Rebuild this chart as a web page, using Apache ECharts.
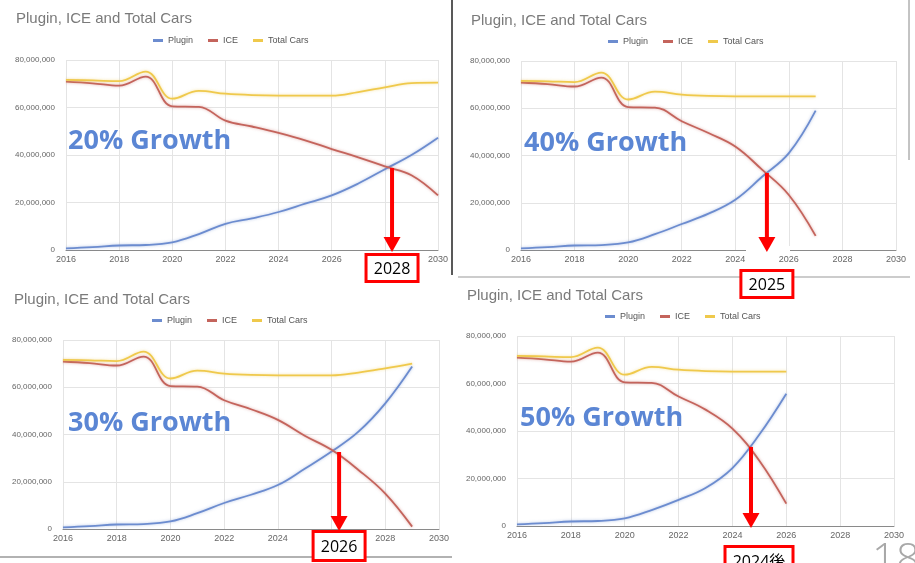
<!DOCTYPE html>
<html>
<head>
<meta charset="utf-8">
<script src="https://cdn.jsdelivr.net/npm/echarts/dist/echarts.min.js"></script>
<style>
  html, body { margin: 0; padding: 0; background: #ffffff; overflow: hidden; }
  #chart { width: 915px; height: 563px; }
</style>
</head>
<body>
<div id="chart"></div>
<script>
// ---- Data (vehicles, in millions) ----
const years = [2016, 2017, 2018, 2019, 2020, 2021, 2022, 2023, 2024, 2025, 2026, 2027, 2028, 2029, 2030];
const xTicks = [2016, 2018, 2020, 2022, 2024, 2026, 2028, 2030];

// 20% growth scenario (to 2030)
const plugin20 = [0.7, 1.2, 1.9, 2.1, 3.2, 6.7, 11.0, 13.3, 16.0, 19.5, 23.0, 28.0, 34.0, 40.0, 47.3];
const ice20    = [70.9, 70.2, 69.2, 73.0, 60.5, 60.3, 54.5, 52.0, 49.3, 46.2, 42.5, 39.0, 35.2, 31.5, 23.0];
const total20  = [71.6, 71.4, 71.1, 75.1, 63.7, 67.0, 65.8, 65.2, 65.0, 65.0, 65.0, 66.5, 68.5, 70.3, 70.5];

// 40% growth scenario (to 2027)
const plugin40 = [0.7, 1.2, 1.9, 2.1, 3.2, 6.7, 11.0, 15.4, 21.3, 31.0, 41.0, 59.0];
const ice40    = [70.9, 70.2, 69.2, 73.0, 60.5, 60.3, 54.5, 49.5, 43.8, 34.0, 23.3, 6.0];
const total40  = [71.6, 71.4, 71.1, 75.1, 63.7, 67.0, 65.8, 65.2, 65.0, 65.0, 65.0, 65.0];

// 30% growth scenario (to 2029)
const plugin30 = [0.7, 1.2, 1.9, 2.1, 3.2, 6.7, 11.0, 14.5, 18.6, 25.5, 32.8, 41.2, 53.2, 68.8];
const ice30    = [70.9, 70.2, 69.2, 73.0, 60.5, 60.3, 54.5, 50.7, 46.2, 39.5, 33.5, 25.0, 15.0, 1.0];
const total30  = [71.6, 71.4, 71.1, 75.1, 63.7, 67.0, 65.8, 65.2, 65.0, 65.0, 65.0, 66.2, 68.0, 70.0];

// 50% growth scenario (to 2026)
const plugin50 = [0.7, 1.2, 1.9, 2.1, 3.2, 6.7, 11.0, 16.0, 24.4, 38.5, 55.7];
const ice50    = [70.9, 70.2, 69.2, 73.0, 60.5, 60.3, 54.5, 49.0, 41.0, 27.5, 9.4];
const total50  = [71.6, 71.4, 71.1, 75.1, 63.7, 67.0, 65.8, 65.2, 65.0, 65.0, 65.0];

// Where plug-ins overtake ICE (year, millions) and the year called out below each chart
const crossYears  = [2028.27, 2025.18, 2026.28, 2024.69];
const crossValues = [34.5, 32.6, 32.6, 33.3];
const crossLabels = ['2028', '2025', '2026', '2024後'];

const growthLabels = ['20% Growth', '40% Growth', '30% Growth', '50% Growth'];
const seriesNames = ['Plugin', 'ICE', 'Total Cars'];
const chartTitle = 'Plugin, ICE and Total Cars';
const pageNumber = '18';

// ---- Layout of the four panels ----
const panels = [
  { plugin: plugin20, ice: ice20, total: total20,
    grid: { left: 66, top: 60, width: 372, height: 190 }, title: [16, 11], legend: [153, 36],
    growth: [68, 141], box: { dx: 0, dy: 3, w: 55, h: 30 } },
  { plugin: plugin40, ice: ice40, total: total40,
    grid: { left: 521, top: 61, width: 375, height: 189 }, title: [471, 13], legend: [608, 37],
    growth: [524, 143], box: { dx: 0, dy: 19, w: 55, h: 30 } },
  { plugin: plugin30, ice: ice30, total: total30,
    grid: { left: 63, top: 340, width: 376, height: 189 }, title: [14, 292], legend: [152, 316],
    growth: [68, 423], box: { dx: 0, dy: 1, w: 55, h: 32 } },
  { plugin: plugin50, ice: ice50, total: total50,
    grid: { left: 517, top: 336, width: 377, height: 190 }, title: [467, 288], legend: [605, 312],
    growth: [520, 418], box: { dx: 8, dy: 19, w: 71, h: 32 } }
];

const colors = { 'Plugin': '#6c8ccf', 'ICE': '#c4645c', 'Total Cars': '#efc94c' };
const uiFont = '"Liberation Sans", Arial, sans-serif';
const M = 1e6;

function pairs(vals) {
  return vals.map((v, i) => [years[i], v * M]);
}

const option = {
  animation: false,
  backgroundColor: '#ffffff',
  title: panels.map(p => ({
    text: chartTitle, left: p.title[0], top: p.title[1], padding: 0,
    textStyle: { fontSize: 15, fontWeight: 'normal', color: '#7a7a7a', fontFamily: uiFont }
  })),
  legend: panels.map(p => ({
    data: seriesNames, left: p.legend[0], top: p.legend[1], padding: 0,
    icon: 'rect', itemWidth: 10, itemHeight: 3, itemGap: 15,
    textStyle: { fontSize: 9, color: '#555', fontFamily: uiFont }
  })),
  grid: panels.map(p => Object.assign({ containLabel: false, outerBoundsMode: 'none' }, p.grid)),
  xAxis: panels.map((p, i) => ({
    type: 'value', gridIndex: i, min: 2016, max: 2030, interval: 2,
    axisLine: { show: true, onZero: false, lineStyle: { color: '#8a8a8a', width: 1 } },
    axisTick: { show: false },
    axisLabel: { fontSize: 9, color: '#666', margin: 5, fontFamily: uiFont,
                 formatter: v => String(v), showMinLabel: true, showMaxLabel: true },
    splitLine: { show: true, lineStyle: { color: '#e4e4e4', width: 1 } }
  })),
  yAxis: panels.map((p, i) => ({
    type: 'value', gridIndex: i, min: 0, max: 80 * M, interval: 20 * M,
    axisLine: { show: false }, axisTick: { show: false },
    axisLabel: { fontSize: 8, color: '#666', margin: 11, fontFamily: uiFont,
                 formatter: v => v.toLocaleString('en-US') },
    splitLine: { show: true, lineStyle: { color: '#e4e4e4', width: 1 } }
  })),
  series: []
};

panels.forEach((p, i) => {
  [['Plugin', p.plugin], ['ICE', p.ice], ['Total Cars', p.total]].forEach(([name, vals]) => {
    option.series.push({
      type: 'line', name: name, xAxisIndex: i, yAxisIndex: i,
      data: pairs(vals), smooth: 0.4, symbol: 'none', showSymbol: false,
      color: colors[name],
      lineStyle: { width: 1.8, color: colors[name], shadowBlur: 3, shadowColor: colors[name] + '88' },
      emphasis: { disabled: true }
    });
  });
});

const chart = echarts.init(document.getElementById('chart'), null, { renderer: 'canvas' });
chart.setOption(option);

// ---- Annotations: panel frames, growth captions, crossover arrows and year boxes ----
const red = '#ff0000';
const graphics = [
  { type: 'line', shape: { x1: 452, y1: 0, x2: 452, y2: 275 }, style: { stroke: '#222', lineWidth: 1.5 }, z: 50 },
  { type: 'line', shape: { x1: 909, y1: 0, x2: 909, y2: 160 }, style: { stroke: '#888', lineWidth: 1 }, z: 50 },
  { type: 'line', shape: { x1: 458, y1: 277, x2: 910, y2: 277 }, style: { stroke: '#9a9a9a', lineWidth: 1.2 }, z: 50 },
  { type: 'line', shape: { x1: 0, y1: 557, x2: 452, y2: 557 }, style: { stroke: '#666', lineWidth: 1.2 }, z: 50 },
  { type: 'rect', shape: { x: 746, y: 246, width: 44, height: 8 }, style: { fill: '#ffffff' }, z: 60 },
  { type: 'text', x: 872, y: 540, z: 60,
    style: { text: pageNumber, font: '300 42px "Open Sans", sans-serif', fill: '#a8a8a8' } }
];

panels.forEach((p, i) => {
  graphics.push({
    type: 'text', x: p.growth[0], y: p.growth[1], z: 80,
    style: { text: growthLabels[i], font: 'bold 27px "Open Sans", sans-serif', fill: '#5b86d4',
             align: 'left', verticalAlign: 'middle', textAlign: 'left', textVerticalAlign: 'middle',
             stroke: 'rgba(255,255,255,0.6)', lineWidth: 2 }
  });

  const top = chart.convertToPixel({ gridIndex: i }, [crossYears[i], crossValues[i] * M]);
  const base = chart.convertToPixel({ gridIndex: i }, [crossYears[i], 0]);
  const x = top[0];
  const tipY = base[1] + 2;
  const headH = 15, headW = 17;

  graphics.push({
    type: 'line', z: 90,
    shape: { x1: x, y1: top[1], x2: x, y2: tipY - headH + 1 },
    style: { stroke: red, lineWidth: 4 }
  });
  graphics.push({
    type: 'polygon', z: 90,
    shape: { points: [[x - headW / 2, tipY - headH], [x + headW / 2, tipY - headH], [x, tipY]] },
    style: { fill: red }
  });

  const b = p.box;
  const bx = x + b.dx - b.w / 2;
  const by = base[1] + b.dy;
  graphics.push({
    type: 'rect', z: 95,
    shape: { x: bx + 1.5, y: by + 1.5, width: b.w - 3, height: b.h - 3 },
    style: { fill: '#ffffff', stroke: red, lineWidth: 3 }
  });
  graphics.push({
    type: 'text', z: 96, x: bx + b.w / 2, y: by + b.h / 2 + 1,
    style: { text: crossLabels[i], font: '16px "Open Sans", "Noto Sans CJK JP", sans-serif', fill: '#000',
             align: 'center', verticalAlign: 'middle', textAlign: 'center', textVerticalAlign: 'middle' }
  });
});

chart.setOption({ graphic: { elements: graphics } });
</script>
</body>
</html>
